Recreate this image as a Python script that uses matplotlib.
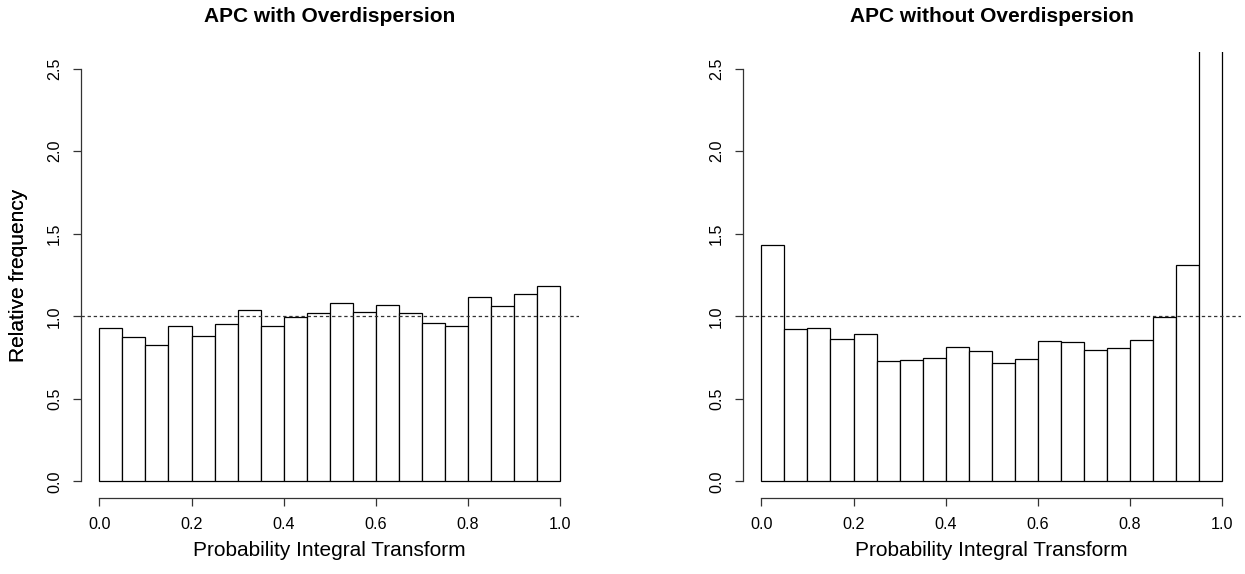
import numpy as np
import matplotlib
matplotlib.use("Agg")
import matplotlib.pyplot as plt

plt.rcParams['font.family'] = ['Liberation Sans', 'DejaVu Sans']
plt.rcParams['lines.scale_dashes'] = False

# PIT histogram, 20 bins of width 0.05 on [0, 1]
bin_left = [0.00, 0.05, 0.10, 0.15, 0.20, 0.25, 0.30, 0.35, 0.40, 0.45,
            0.50, 0.55, 0.60, 0.65, 0.70, 0.75, 0.80, 0.85, 0.90, 0.95]
bin_width = 0.05

# relative frequency, APC with overdispersion
freq_over = [0.931, 0.876, 0.824, 0.939, 0.880, 0.953, 1.040, 0.943, 0.996, 1.020,
             1.081, 1.028, 1.069, 1.018, 0.961, 0.941, 1.115, 1.065, 1.133, 1.184]
# relative frequency, APC without overdispersion (last bin runs off the plot)
freq_no_over = [1.433, 0.921, 0.931, 0.862, 0.895, 0.731, 0.733, 0.749, 0.816, 0.789,
                0.715, 0.739, 0.848, 0.842, 0.795, 0.810, 0.856, 0.996, 1.309, 3.230]

titles = ["APC with Overdispersion", "APC without Overdispersion"]
x_ticks = [0.0, 0.2, 0.4, 0.6, 0.8, 1.0]
y_ticks = [0.0, 0.5, 1.0, 1.5, 2.0, 2.5]

W, H = 1245, 574
fig = plt.figure(figsize=(W / 100, H / 100), dpi=100)

# plot regions in pixels (left, top, right, bottom)
regions = [(80.9, 52.2, 578.7, 497.8), (742.9, 52.2, 1240.7, 497.8)]


def panel(rect, heights, title):
    l, t, r, b = rect
    ax = fig.add_axes([l / W, (H - b) / H, (r - l) / W, (b - t) / H])
    ax.bar(bin_left, heights, width=bin_width, align='edge',
           facecolor='white', edgecolor='black', linewidth=0.9)
    ax.axhline(1.0, color='#333333', linewidth=0.9, dashes=(2.4, 2.0))
    ax.set_xlim(-0.04, 1.04)
    ax.set_ylim(-0.1, 2.6)

    # R style detached axes
    for s in ['top', 'right']:
        ax.spines[s].set_visible(False)
    ax.spines['bottom'].set_bounds(0, 1)
    ax.spines['left'].set_bounds(0, 2.5)
    for s in ['bottom', 'left']:
        ax.spines[s].set_color('#333333')
        ax.spines[s].set_linewidth(0.9)

    ax.set_xticks(x_ticks)
    ax.set_xticklabels([f"{v:.1f}" for v in x_ticks])
    ax.set_yticks(y_ticks)
    ax.set_yticklabels([f"{v:.1f}" for v in y_ticks], rotation=90, va='center')
    ax.tick_params(axis='both', length=6, width=0.9, color='#333333',
                   labelsize=11.6, pad=7.5)

    ax.set_xlabel("Probability Integral Transform", fontsize=15)
    ax.xaxis.set_label_coords(0.5, (b - 551) / (b - t))
    ax.xaxis.label.set_va('center')
    ax.set_ylabel("Relative frequency", fontsize=15)
    ax.yaxis.set_label_coords((19 - l) / (r - l), 0.5)
    ax.yaxis.label.set_va('center')
    ax.set_title(title, fontsize=15, fontweight='bold',
                 y=(b - 17) / (b - t), va='center', pad=0)
    return ax


panel(regions[0], freq_over, titles[0])
panel(regions[1], freq_no_over, titles[1])

fig.savefig("out.png", dpi=100)
